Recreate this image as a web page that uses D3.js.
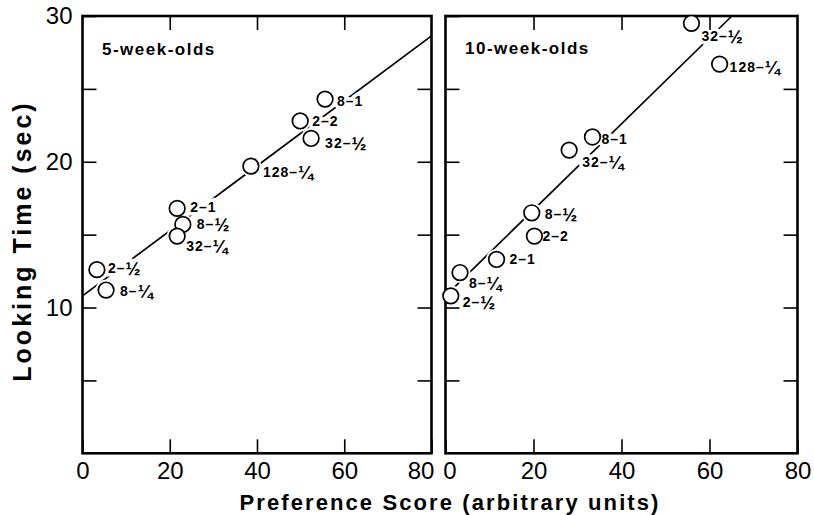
<!DOCTYPE html>
<html>
<head>
<meta charset="utf-8">
<script src="https://cdn.jsdelivr.net/npm/d3@7"></script>
<style>
  body { margin: 0; background: #fff; }
  svg { display: block; font-family: "Liberation Sans", Arial, Helvetica, sans-serif; }
</style>
</head>
<body>
<svg id="chart" width="814" height="515"></svg>
<script>
// 5-week-olds: stimulus condition, preference score, looking time (sec)
const conditions5 = ["2–½", "8–¼", "2–1", "8–½", "32–¼", "128–¼", "2–2", "32–½", "8–1"];
const score5      = [3.3, 5.4, 21.7, 23.0, 21.7, 38.6, 49.9, 52.4, 55.6];
const time5       = [12.6, 11.2, 16.8, 15.7, 14.9, 19.7, 22.8, 21.6, 24.3];
const fit5        = [10.8, 0.223];   // intercept, slope

// 10-week-olds
const conditions10 = ["2–½", "8–¼", "2–1", "2–2", "8–½", "32–¼", "8–1", "32–½", "128–¼"];
const score10      = [1.2, 3.3, 11.6, 20.2, 19.6, 28.1, 33.4, 55.9, 62.3];
const time10       = [10.8, 12.4, 13.3, 14.9, 16.5, 20.8, 21.7, 29.5, 26.7];
const fit10        = [10.8, 0.295];

const xTicks = [0, 20, 40, 60, 80];
const yTicks = [5, 10, 15, 20, 25, 30];
const yTickLabels = ["", "10", "", "20", "", "30"];
const panelTitles = ["5-week-olds", "10-week-olds"];

// label placement relative to each circle (dx, dy of baseline)
const labelOffsets5  = [[11, 3], [14, 6], [13, 4], [14, 5], [9, 15], [12, 11], [12, 5], [14, 10], [12, 7]];
const labelOffsets10 = [[12, 11], [9, 15], [13, 5], [8, 5], [13, 6], [13, 17], [9, 7], [10, 18], [10, 8]];

const svg = d3.select("#chart");
const plotTop = 16, plotBottom = 453.3;
const y = d3.scaleLinear().domain([0, 30]).range([plotBottom, plotTop]);

const panels = [
  { left: 82.5, right: 431.5, title: panelTitles[0], cond: conditions5, xs: score5, ys: time5, fit: fit5, offs: labelOffsets5, tx: 102, ty: 55, yLabels: true, shiftFirst: 0, shiftLast: -11 },
  { left: 445.5, right: 797.5, title: panelTitles[1], cond: conditions10, xs: score10, ys: time10, fit: fit10, offs: labelOffsets10, tx: 465, ty: 54, yLabels: false, shiftFirst: 4, shiftLast: 0 }
];

function styleAxis(a) {
  a.select(".domain").remove();
  a.selectAll(".tick line").attr("stroke", "#000").attr("stroke-width", 1.6);
  a.selectAll(".tick text")
    .attr("fill", "#000")
    .attr("font-family", "Liberation Sans, Arial, sans-serif")
    .attr("font-size", 24);
}

function labelText(sel) {
  sel.each(function (d) {
    const t = d3.select(this);
    const s = d.label;
    const frac = s.slice(-1);
    if (frac === "½" || frac === "¼") {
      t.append("tspan").text(s.slice(0, -1));
      t.append("tspan").attr("font-size", 18).attr("dy", 2).text(frac);
    } else {
      t.text(s);
    }
  });
}

panels.forEach(p => {
  const x = d3.scaleLinear().domain([0, 80]).range([p.left, p.right]);
  const g = svg.append("g");
  const pts = p.cond.map((c, i) => ({ label: c, sx: p.xs[i], ty: p.ys[i], off: p.offs[i] }));

  // regression line, stopping at the top of the frame
  const [b, m] = p.fit;
  const xEnd = Math.min(80, (30 - b) / m);
  g.append("path")
    .datum([0, xEnd])
    .attr("fill", "none")
    .attr("stroke", "#000")
    .attr("stroke-width", 1.7)
    .attr("d", d3.line().x(d => x(d)).y(d => y(b + m * d)));

  // white knock-outs so the line breaks around circles and labels
  g.selectAll("circle.halo").data(pts).join("circle")
    .attr("class", "halo")
    .attr("cx", d => x(d.sx)).attr("cy", d => y(d.ty))
    .attr("r", 10.5).attr("fill", "#fff");
  g.selectAll("text.halo").data(pts).join("text")
    .attr("class", "halo")
    .attr("x", d => x(d.sx) + d.off[0]).attr("y", d => y(d.ty) + d.off[1])
    .attr("font-size", 14).attr("font-weight", "bold").attr("letter-spacing", 1)
    .attr("fill", "#fff").attr("stroke", "#fff").attr("stroke-width", 7)
    .call(labelText);

  // frame
  g.append("rect")
    .attr("x", p.left).attr("y", plotTop)
    .attr("width", p.right - p.left).attr("height", plotBottom - plotTop)
    .attr("fill", "none").attr("stroke", "#000").attr("stroke-width", 2.6);

  // inward ticks on all four sides
  g.append("g").attr("transform", `translate(0,${plotBottom})`)
    .call(d3.axisBottom(x).tickValues(xTicks).tickSize(-14).tickPadding(9).tickFormat(d3.format("d")))
    .call(styleAxis)
    .call(a => {
      const texts = a.selectAll(".tick text");
      texts.filter((d, i) => i === 0).attr("x", p.shiftFirst);
      texts.filter((d, i) => i === xTicks.length - 1).attr("x", p.shiftLast);
    });
  g.append("g").attr("transform", `translate(0,${plotTop})`)
    .call(d3.axisTop(x).tickValues(xTicks.slice(1, -1)).tickSize(-14).tickFormat(""))
    .call(styleAxis);
  g.append("g").attr("transform", `translate(${p.left},0)`)
    .call(d3.axisLeft(y).tickValues(yTicks).tickSize(-14).tickPadding(10)
      .tickFormat((d, i) => p.yLabels ? yTickLabels[i] : ""))
    .call(styleAxis);
  g.append("g").attr("transform", `translate(${p.right},0)`)
    .call(d3.axisRight(y).tickValues(yTicks.slice(0, -1)).tickSize(-14).tickFormat(""))
    .call(styleAxis);

  // data points
  g.selectAll("circle.pt").data(pts).join("circle")
    .attr("class", "pt")
    .attr("cx", d => x(d.sx)).attr("cy", d => y(d.ty))
    .attr("r", 7.8).attr("fill", "#fff").attr("stroke", "#000").attr("stroke-width", 1.7);
  g.selectAll("text.pt").data(pts).join("text")
    .attr("class", "pt")
    .attr("x", d => x(d.sx) + d.off[0]).attr("y", d => y(d.ty) + d.off[1])
    .attr("font-size", 14).attr("font-weight", "bold").attr("letter-spacing", 1)
    .attr("fill", "#000")
    .call(labelText);

  // panel title
  g.append("text")
    .attr("x", p.tx).attr("y", p.ty)
    .attr("font-size", 17).attr("font-weight", "bold").attr("letter-spacing", 1.5)
    .text(p.title);
});

// axis titles
svg.append("text")
  .attr("transform", "translate(31,241) rotate(-90)")
  .attr("text-anchor", "middle")
  .attr("font-size", 25).attr("font-weight", "bold").attr("letter-spacing", 3)
  .text("Looking Time (sec)");

svg.append("text")
  .attr("x", 450).attr("y", 510)
  .attr("text-anchor", "middle")
  .attr("font-size", 22).attr("font-weight", "bold").attr("letter-spacing", 2.1)
  .text("Preference Score (arbitrary units)");
</script>
</body>
</html>
